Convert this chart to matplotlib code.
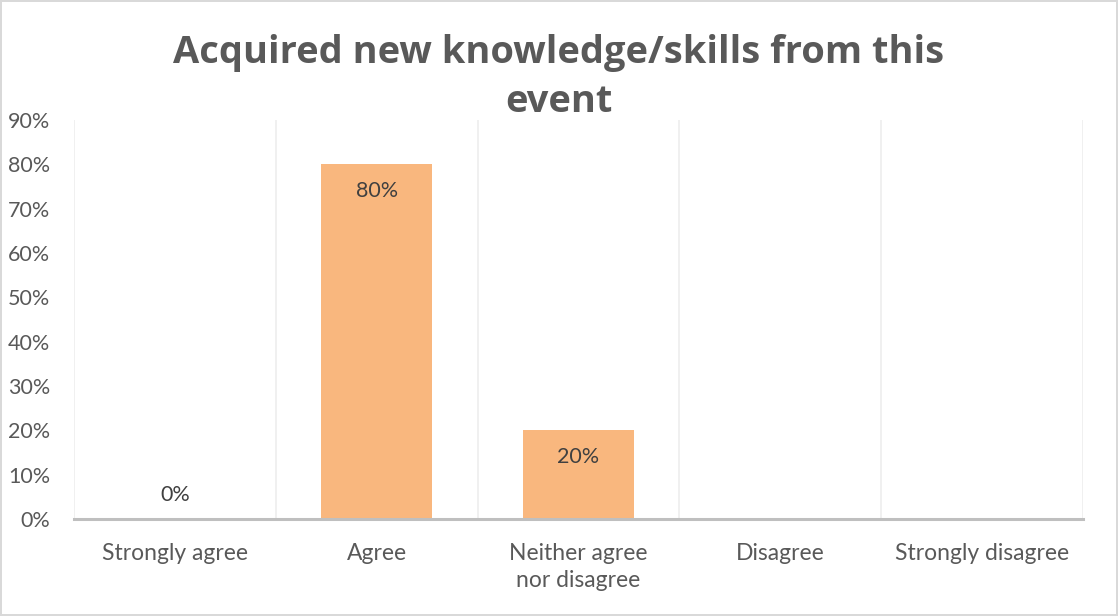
import numpy as np
import matplotlib
matplotlib.use("Agg")
import matplotlib.pyplot as plt
from matplotlib.ticker import FuncFormatter

# data
categories = ["Strongly agree", "Agree", "Neither agree\nnor disagree", "Disagree", "Strongly disagree"]
values = [0.0, 0.80, 0.20, np.nan, np.nan]   # last two have no value / no label
title = "Acquired new knowledge/skills from this\nevent"

bar_color = "#F9B77E"
text_gray = "#595959"
grid_gray = "#EDEDED"

fig = plt.figure(figsize=(11.18, 6.16), dpi=100)
fig.patch.set_facecolor("white")
fig.patch.set_edgecolor("#D9D9D9")
fig.patch.set_linewidth(1.5)

ax = fig.add_axes([0.0662, 0.1575, 0.9025, 0.6475])

x = np.arange(len(categories))
heights = np.nan_to_num(values)
ax.bar(x, heights, width=0.55, color=bar_color, zorder=3)

ax.set_xlim(-0.5, len(categories) - 0.5)
ax.set_ylim(0, 0.9)
ax.set_yticks(np.arange(0, 0.91, 0.1))
ax.yaxis.set_major_formatter(FuncFormatter(lambda v, p: f"{v*100:.0f}%"))
ax.set_xticks(x)
ax.set_xticklabels(categories, linespacing=1.4)

# vertical gridlines between categories
for b in np.arange(-0.5, len(categories) + 0.5, 1.0):
    ax.axvline(b, color=grid_gray, lw=1.2, zorder=1)

for s in ["top", "right", "left"]:
    ax.spines[s].set_visible(False)
ax.spines["bottom"].set_color("#BFBFBF")
ax.spines["bottom"].set_linewidth(2.2)
ax.spines["bottom"].set_zorder(4)

ax.tick_params(axis="both", length=0, colors=text_gray)
ax.tick_params(axis="y", pad=17, labelsize=15.5)
ax.tick_params(axis="x", pad=17, labelsize=16.5)
for lab in ax.get_xticklabels() + ax.get_yticklabels():
    lab.set_fontfamily("Lato")
    lab.set_color(text_gray)

# data labels
for xi, v in zip(x, values):
    if np.isnan(v):
        continue
    off = -19 if v > 0 else 17
    ax.annotate(f"{v*100:.0f}%", (xi, v), xytext=(0, off), textcoords="offset points",
                ha="center", va="center", fontsize=15.5, color="#404040",
                fontfamily="Lato", zorder=5)

fig.text(0.5, 0.874, title, ha="center", va="center", fontsize=27.4, fontweight="bold",
         color=text_gray, fontfamily="Open Sans", linespacing=1.38)

fig.savefig("out.png", dpi=100, facecolor=fig.get_facecolor(), edgecolor=fig.get_edgecolor())
